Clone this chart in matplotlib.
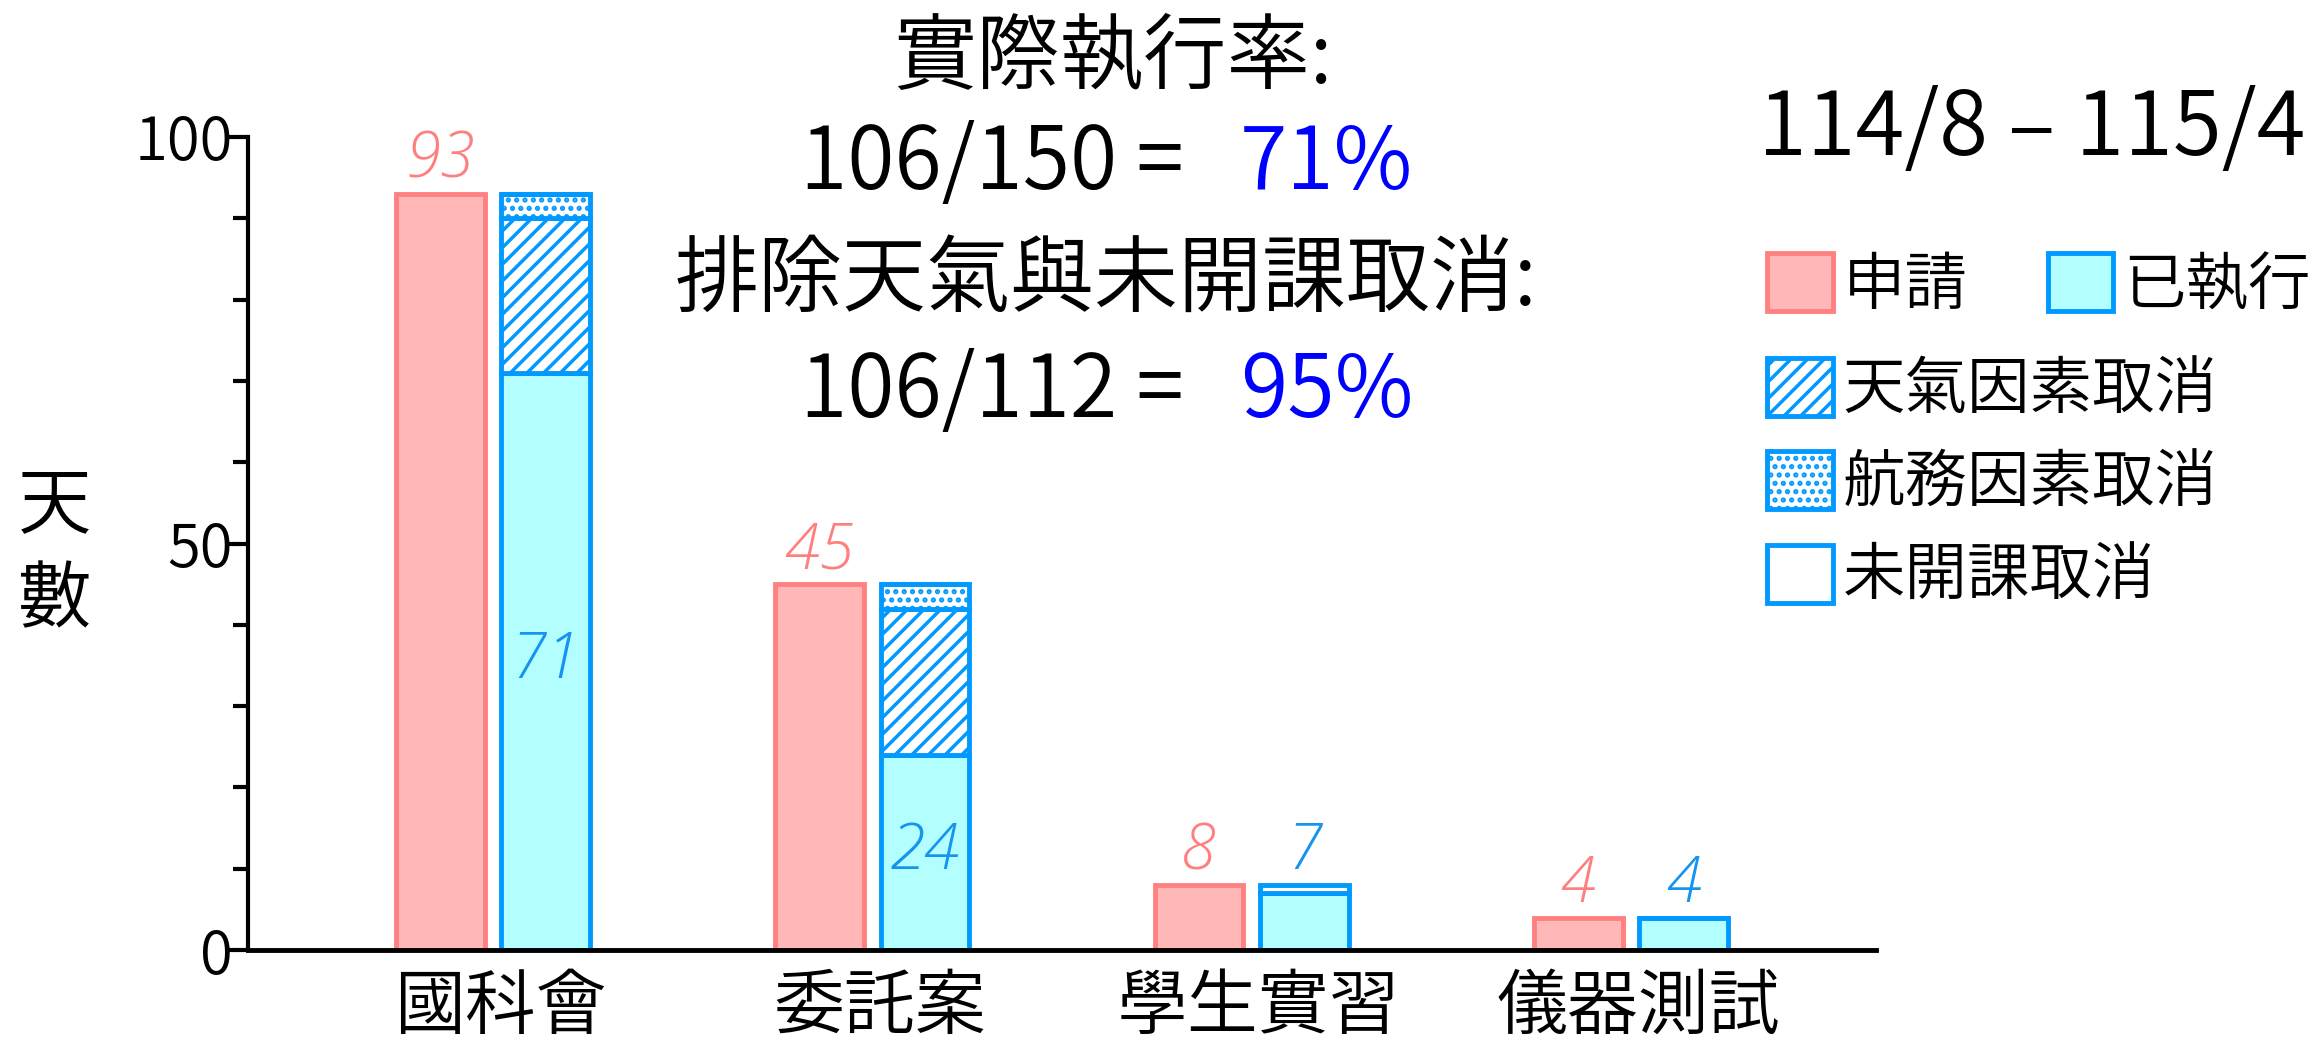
import matplotlib
matplotlib.use("Agg")
import matplotlib.pyplot as plt
import matplotlib.transforms as mtransforms
from matplotlib.ticker import MultipleLocator
import numpy as np

plt.rcParams['font.family'] = ['Noto Sans CJK JP', 'DejaVu Sans']
plt.rcParams['font.weight'] = 350
plt.rcParams['hatch.linewidth'] = 2.5

# data
categories = ["國科會", "委託案", "學生實習", "儀器測試"]
applied = [93, 45, 8, 4]        # 申請
executed = [71, 24, 7, 4]       # 已執行
weather = [19, 18, 0, 0]        # 天氣因素取消
flight = [3, 3, 0, 0]           # 航務因素取消
no_class = [0, 0, 1, 0]         # 未開課取消
period = "114/8 – 115/4"

PINK_FC = '#FFB7B7'
PINK_EC = '#FF8080'
PINK_TXT = '#FF7F7F'
CYAN_FC = '#B3FFFF'
BLUE_EC = '#0099FF'
BLUE_TXT = '#1593EE'

fig = plt.figure(figsize=(23.2, 10.44), dpi=100)
ax = fig.add_axes([0.1069, 0.090, 0.7017, 0.7788])

x = np.arange(len(categories))
w = 0.234
off = 0.139
lw = 3.5

b_app = ax.bar(x - off, applied, w, color=PINK_FC, edgecolor=PINK_EC, linewidth=lw, label='申請')
b_exe = ax.bar(x + off, executed, w, color=CYAN_FC, edgecolor=BLUE_EC, linewidth=lw, label='已執行')
bottom = np.array(executed)
b_wea = ax.bar(x + off, weather, w, bottom=bottom, color='white', edgecolor=BLUE_EC,
               hatch='//', linewidth=lw, label='天氣因素取消')
bottom = bottom + weather
b_fli = ax.bar(x + off, flight, w, bottom=bottom, color='white', edgecolor=BLUE_EC,
               hatch='..', linewidth=lw, label='航務因素取消')
bottom = bottom + flight
b_non = ax.bar(x + off, no_class, w, bottom=bottom, color='white', edgecolor=BLUE_EC,
               linewidth=lw, label='未開課取消')
top = bottom + no_class

# value labels
num_font = dict(family='Open Sans', style='italic', weight=300, fontsize=46)
for i in range(len(categories)):
    ax.annotate(str(applied[i]), (x[i] - off, applied[i]), xytext=(0, 11.5),
                textcoords='offset points', ha='center', va='baseline',
                color=PINK_TXT, annotation_clip=False, **num_font)
    if executed[i] >= 10:
        ax.text(x[i] + off, executed[i] / 2, str(executed[i]), ha='center', va='center',
                color=BLUE_TXT, **num_font)
    else:
        ax.annotate(str(executed[i]), (x[i] + off, top[i]), xytext=(0, 11.5),
                    textcoords='offset points', ha='center', va='baseline',
                    color=BLUE_TXT, annotation_clip=False, **num_font)

# axes
ax.set_xlim(-0.646, 3.646)
ax.set_ylim(0, 100)
ax.spines['top'].set_visible(False)
ax.spines['right'].set_visible(False)
ax.spines['left'].set_linewidth(3)
ax.spines['bottom'].set_linewidth(3.5)
ax.yaxis.set_major_locator(MultipleLocator(50))
ax.yaxis.set_minor_locator(MultipleLocator(10))
ax.tick_params(axis='y', which='major', length=14, width=3, labelsize=43, pad=-3)
ax.tick_params(axis='y', which='minor', length=11, width=3)
ax.tick_params(axis='x', length=0, labelsize=51, pad=16)
ax.set_xticks(x, categories)
shift = mtransforms.ScaledTranslation(0.07, 0, fig.dpi_scale_trans)
for lab in ax.get_xticklabels():
    lab.set_transform(lab.get_transform() + shift)

# y label, written vertically
fig.text(55 / 2320, 0.515, '天', ha='center', va='center', fontsize=53)
fig.text(55 / 2320, 0.424, '數', ha='center', va='center', fontsize=53)

# rates in the header
n_exec = sum(executed)
n_appl = sum(applied)
n_adj = n_appl - sum(weather) - sum(no_class)
fig.text(1113 / 2320, 1 - 59 / 1044, '實際執行率:', ha='center', va='center', fontsize=60)
fig.text(1184 / 2320, 1 - 189 / 1044, f'{n_exec}/{n_appl} =', ha='right', va='baseline', fontsize=62)
fig.text(1240 / 2320, 1 - 189 / 1044, f'{round(100 * n_exec / n_appl)}%', ha='left',
         va='baseline', fontsize=62, color='#0000FF')
fig.text(1106 / 2320, 1 - 281 / 1044, '排除天氣與未開課取消:', ha='center', va='center', fontsize=60.5)
fig.text(1184 / 2320, 1 - 417 / 1044, f'{n_exec}/{n_adj} =', ha='right', va='baseline', fontsize=62)
fig.text(1240 / 2320, 1 - 417 / 1044, f'{round(100 * n_exec / n_adj)}%', ha='left',
         va='baseline', fontsize=62, color='#0000FF')
fig.text(2305 / 2320, 1 - 155 / 1044, period, ha='right', va='baseline', fontsize=64)

# legends
leg_kw = dict(frameon=False, fontsize=45, handlelength=1.05, handleheight=1.05,
              handletextpad=0.16, borderpad=0, borderaxespad=0)
fig.legend([b_app, b_exe], ['申請', '已執行'], loc='center left',
           bbox_to_anchor=(1767 / 2320, 1 - 286 / 1044), ncol=2, columnspacing=1.28, **leg_kw)
fig.legend([b_wea, b_fli, b_non], ['天氣因素取消', '航務因素取消', '未開課取消'], loc='center left',
           bbox_to_anchor=(1767 / 2320, 1 - 484 / 1044), labelspacing=0.45, **leg_kw)

fig.savefig('out.png', dpi=100)
